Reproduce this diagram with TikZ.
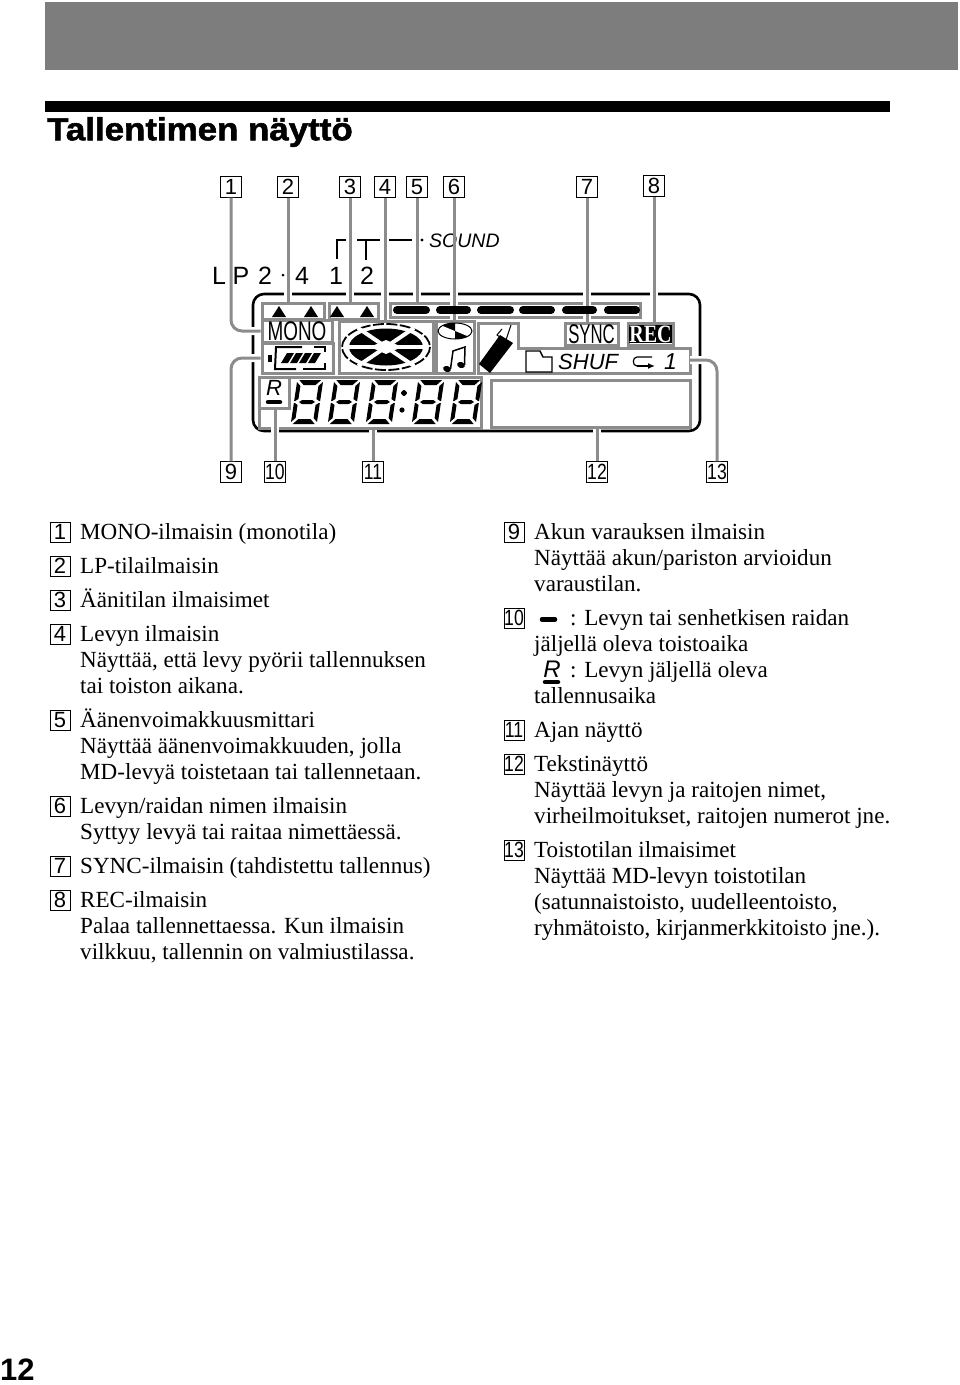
\documentclass[tikz,border=0pt]{standalone}
\usepackage{fontspec}
\setmainfont{Liberation Serif}
\setsansfont{Liberation Sans}
\newfontfamily\titlefont[FakeBold=1.6]{Liberation Sans Bold}
\usetikzlibrary{arrows.meta,positioning,calc}

\newcommand{\bodysize}{\fontsize{23.1}{26}\selectfont}
\newcommand{\lcddigit}[1]{%
\begin{scope}[shift={(#1,402)},xslant=0.15]
\fill (2,-22) -- (24,-22) -- (19,-17) -- (7,-17) -- cycle;
\fill (2,22) -- (24,22) -- (19,17) -- (7,17) -- cycle;
\fill (5,0) -- (8,-2) -- (18,-2) -- (21,0) -- (18,2) -- (8,2) -- cycle;
\fill (0,-20) -- (4,-16) -- (4,-3) -- (1,-1) -- (0,-1) -- cycle;
\fill (26,-20) -- (22,-16) -- (22,-3) -- (25,-1) -- (26,-1) -- cycle;
\fill (0,20) -- (4,16) -- (4,3) -- (1,1) -- (0,1) -- cycle;
\fill (26,20) -- (22,16) -- (22,3) -- (25,1) -- (26,1) -- cycle;
\end{scope}}

\definecolor{lcdgray}{HTML}{8C8C8C}
\definecolor{bandgray}{HTML}{7D7D7D}

\begin{document}
\begin{tikzpicture}[x=1pt,y=-1pt,
numbox/.style={draw, line width=0.9pt, inner sep=0pt, minimum width=21pt, minimum height=21pt, font=\sffamily\fontsize{22}{22}\selectfont},
listbox/.style={numbox, minimum width=20pt, minimum height=20pt},
itemtext/.style={anchor=north west, inner sep=0pt, align=left, font=\bodysize},
lcdbox/.style={draw=lcdgray, line width=3pt, inner sep=0pt},
leader/.style={draw=lcdgray, line width=3pt, rounded corners=11pt},
halo/.style={leader, preaction={draw=white, line width=8pt}},
lpdigit/.style={anchor=base, font=\sffamily\fontsize{25}{25}\selectfont, inner sep=0pt},
pill/.style={line cap=round}
]
\useasboundingbox (0,0) rectangle (960,1385);
% page head
\fill[bandgray] (45,2) rectangle (958,70);
\fill[black] (45,101) rectangle (890,112);
\node[anchor=west, inner sep=0pt, font=\titlefont\fontsize{32}{32}\selectfont] (title) at (47,132) {\scalebox{1.09}[1]{Tallentimen näyttö}};
\node[anchor=west, inner sep=0pt, font=\sffamily\bfseries\fontsize{31}{31}\selectfont] (pageno) at (0,1370) {12};

% callouts
\foreach \n/\xp/\yp in {1/231/187,2/288/187,3/350/187,4/385/187,5/417/187,6/454/187,7/587/187,8/654/186,9/231/472,10/275/472,11/373/472,12/597/472,13/717/472}
  \node[numbox] (n\n) at (\xp,\yp) {\ifnum\n>9\scalebox{.8}[1]{\n}\else\n\fi};

% display frame
\node[draw, line width=2.6pt, rounded corners=11pt, minimum width=447pt, minimum height=137pt, inner sep=0pt] (lcdframe) at (476.5,362.5) {};

% LCD segments
\node[lcdbox, minimum width=62pt, minimum height=16pt] (lpbox) at (293,311) {};
\node[lcdbox, minimum width=49pt, minimum height=16pt] (stereobox) at (353.5,311) {};
\node[lcdbox, minimum width=250pt, minimum height=14pt] (levelbox) at (515,310) {};
\node[lcdbox, minimum width=70pt, minimum height=22pt] (monobox) at (297,331) {\sffamily\fontsize{27}{27}\selectfont\scalebox{.7}[1]{MONO}};
\node[lcdbox, minimum width=71pt, minimum height=30pt] (battbox) at (297.5,358) {};
\node[lcdbox, minimum width=94pt, minimum height=52pt] (discbox) at (386,347) {};
\node[lcdbox, minimum width=38pt, minimum height=52pt] (notebox) at (455,347) {};
\node[lcdbox, minimum width=53pt, minimum height=22pt] (syncbox) at (591.5,334) {\sffamily\fontsize{27}{27}\selectfont\scalebox{.62}[1]{SYNC}};
\node[lcdbox, minimum width=45pt, minimum height=22pt] (recbox) at (650.5,334) {};
\node[fill=black, text=white, inner sep=0pt, minimum width=41pt, minimum height=18pt, font=\bfseries\fontsize{25}{25}\selectfont] (reclabel) at (650.5,334) {\scalebox{.8}[1]{REC}};
\node[lcdbox, minimum width=222pt, minimum height=51pt] (digitbox) at (370,402.5) {};
\node[lcdbox, minimum width=30pt, minimum height=31pt] (rbox) at (274,392.5) {};
\node[lcdbox, minimum width=199pt, minimum height=47pt] (textbox) at (590.5,403.5) {};
\draw[lcdgray, line width=3pt] (478,373) -- (478,323) -- (518,323) -- (518,348) -- (690,348) -- (690,373) -- cycle;
\coordinate (shufedge) at (690,360);

% leaders
\draw[halo] (n1.south) |- (monobox.west);
\draw[halo] (n2.south) -- (n2.south |- lpbox.north);
\draw[halo] (n3.south) -- (n3.south |- stereobox.north);
\draw[halo] (n4.south) -- (n4.south |- discbox.north);
\draw[halo] (n5.south) -- (n5.south |- levelbox.north);
\draw[halo] (n6.south) -- (n6.south |- notebox.north);
\draw[halo] (n7.south) -- (n7.south |- syncbox.north);
\draw[halo] (n8.south) -- (n8.south |- recbox.north);
\draw[halo] (n9.north) |- (battbox.west);
\draw[halo] (n10.north) -- (n10.north |- rbox.south);
\draw[halo] (n11.north) -- (n11.north |- digitbox.south);
\draw[halo] (n12.north) -- (n12.north |- textbox.south);
\draw[halo] (n13.north) |- (shufedge);

% tape mode marks above the display
\foreach \lab/\xp in {L/219,P/241,2/265,4/302,1/336,2/367}
  \node[lpdigit] (mark\xp) at (\xp,284) {\lab};
\fill (283,275) circle (1.5);
\draw[line width=2.2pt] (337,259) -- (337,240) -- (346,240);
\draw[line width=2.2pt] (357,240) -- (380,240);
\draw[line width=2.2pt] (366,240) -- (366,260);
\draw[line width=2.2pt] (389,240) -- (412,240);
\fill (422,240) circle (1.6);
\node[anchor=west, inner sep=0pt, font=\sffamily\itshape\fontsize{19.5}{20}\selectfont] (soundlabel) at (429,241) {SOUND};
\draw[leader] (n6.south) -- (n6.south |- notebox.north);

% icons
\foreach \xp in {279,311,337,367}
  \fill (\xp-7,317) -- (\xp+7,317) -- (\xp,306) -- cycle;
\foreach \xs/\xe in {397/426,440/467,481/510,523/551,566/593,608/636}
  \draw[pill, line width=8pt] (\xs,310) -- (\xe,310);
% battery
\fill (268,355) rectangle (272,362);
\draw[line width=2pt] (302,347) -- (276,347) -- (275,369) -- (296,369);
\draw[line width=2pt] (303,369) -- (325,369) -- (325,363);
\draw[line width=2pt] (314,347) -- (325,347) -- (325,352);
\foreach \xp in {281,290,299,308}
  \fill (\xp,363) -- (\xp+6,353) -- (\xp+13,353) -- (\xp+7,363) -- cycle;
% disc
\draw[line width=1.8pt, dash pattern=on 11pt off 2.5pt] (386,347) ellipse (44 and 23);
\fill (386,347) ellipse (37 and 18.5);
\draw[white, line width=4pt] (345,347) -- (427,347);
\draw[white, line width=4pt] (358,328) -- (414,366);
\draw[white, line width=4pt] (414,328) -- (358,366);
\fill[white] (386,340) -- (402,347) -- (386,354) -- (370,347) -- cycle;
% cd mark and note
\begin{scope}
\clip (455,331) ellipse (17 and 8);
\fill (455,331) -- (436,323) -- (455,318) -- cycle;
\fill (455,331) -- (474,339) -- (455,344) -- cycle;
\end{scope}
\draw[line width=1pt] (455,331) ellipse (17 and 8);
\fill[rotate around={-20:(447,369)}] (447,369) ellipse (4 and 3);
\fill[rotate around={-20:(461,365)}] (461,365) ellipse (4 and 3);
\draw[line width=1.5pt] (450.5,369) -- (453,351) -- (465,347) -- (464.5,365);
% pen
\fill (479,364) -- (500,335) -- (513,343) -- (490,373) -- cycle;
\draw[line width=1pt] (505,343) -- (511,325);
\draw[line width=1pt] (507,342) -- (497,335) -- (502,329);
% folder
\draw[line width=1.4pt] (526,372) -- (526,351) -- (540,351) -- (543,357) -- (552,357) -- (552,372) -- cycle;
\node[anchor=west, inner sep=0pt, font=\sffamily\itshape\fontsize{22}{22}\selectfont] (shuflabel) at (558,362) {SHUF};
\draw[line width=1.2pt] (652,357) -- (637,357) to[out=180,in=180,looseness=1.4] (637,366);
\draw[line width=1.4pt, -{Latex[length=7pt,width=6pt]}] (637,366) -- (655,366);
\node[anchor=west, inner sep=0pt, font=\sffamily\itshape\fontsize{23}{23}\selectfont] (repeatlabel) at (664,362) {1};
% remaining mark and digits
\node[inner sep=0pt, font=\sffamily\itshape\fontsize{22}{22}\selectfont] (rmark) at (274,388) {R};
\draw[pill, line width=4.5pt] (268,402) -- (280,402);
\foreach \xp in {294,331,369,415,453}
  \lcddigit{\xp}
\fill (404,393) circle (2.6);
\fill (402,410) circle (2.6);

% left column
\foreach \n/\yp in {1/532,2/566,3/600,4/634,5/720,6/806,7/866,8/900}
  \node[listbox] (a\n) at (60,\yp) {\n};
\node[itemtext] (t1) at (80,521) {\strut MONO-ilmaisin (monotila)};
\node[itemtext] (t2) at (80,555) {\strut LP-tilailmaisin};
\node[itemtext] (t3) at (80,589) {\strut Äänitilan ilmaisimet};
\node[itemtext] (t4) at (80,623) {\strut Levyn ilmaisin\\Näyttää, että levy pyörii tallennuksen\\tai toiston aikana.};
\node[itemtext] (t5) at (80,709) {\strut Äänenvoimakkuusmittari\\Näyttää äänenvoimakkuuden, jolla\\MD-levyä toistetaan tai tallennetaan.};
\node[itemtext] (t6) at (80,795) {\strut Levyn/raidan nimen ilmaisin\\Syttyy levyä tai raitaa nimettäessä.};
\node[itemtext] (t7) at (80,855) {\strut SYNC-ilmaisin (tahdistettu tallennus)};
\node[itemtext] (t8) at (80,889) {\strut REC-ilmaisin\\Palaa tallennettaessa. Kun ilmaisin\\vilkkuu, tallennin on valmiustilassa.};

% right column
\foreach \n/\yp in {9/532,10/618,11/730,12/764,13/850}
  \node[listbox] (a\n) at (514,\yp) {\ifnum\n>9\scalebox{.8}[1]{\n}\else\n\fi};
\node[itemtext] (t9) at (534,521) {\strut Akun varauksen ilmaisin\\Näyttää akun/pariston arvioidun\\varaustilan.};
\draw[pill, line width=4.5pt] (542,619.5) -- (555,619.5);
\node[itemtext] (t10a) at (570,607) {\strut : Levyn tai senhetkisen raidan};
\node[itemtext] (t10b) at (534,633) {\strut jäljellä oleva toistoaika};
\node[inner sep=0pt, font=\sffamily\itshape\fontsize{24}{24}\selectfont] (t10r) at (552,669) {R};
\draw[pill, line width=4.5pt] (545,682) -- (558,682);
\node[itemtext] (t10c) at (570,659) {\strut : Levyn jäljellä oleva};
\node[itemtext] (t10d) at (534,685) {\strut tallennusaika};
\node[itemtext] (t11) at (534,719) {\strut Ajan näyttö};
\node[itemtext] (t12) at (534,753) {\strut Tekstinäyttö\\Näyttää levyn ja raitojen nimet,\\virheilmoitukset, raitojen numerot jne.};
\node[itemtext] (t13) at (534,839) {\strut Toistotilan ilmaisimet\\Näyttää MD-levyn toistotilan\\(satunnaistoisto, uudelleentoisto,\\ryhmätoisto, kirjanmerkkitoisto jne.).};
\end{tikzpicture}
\end{document}
